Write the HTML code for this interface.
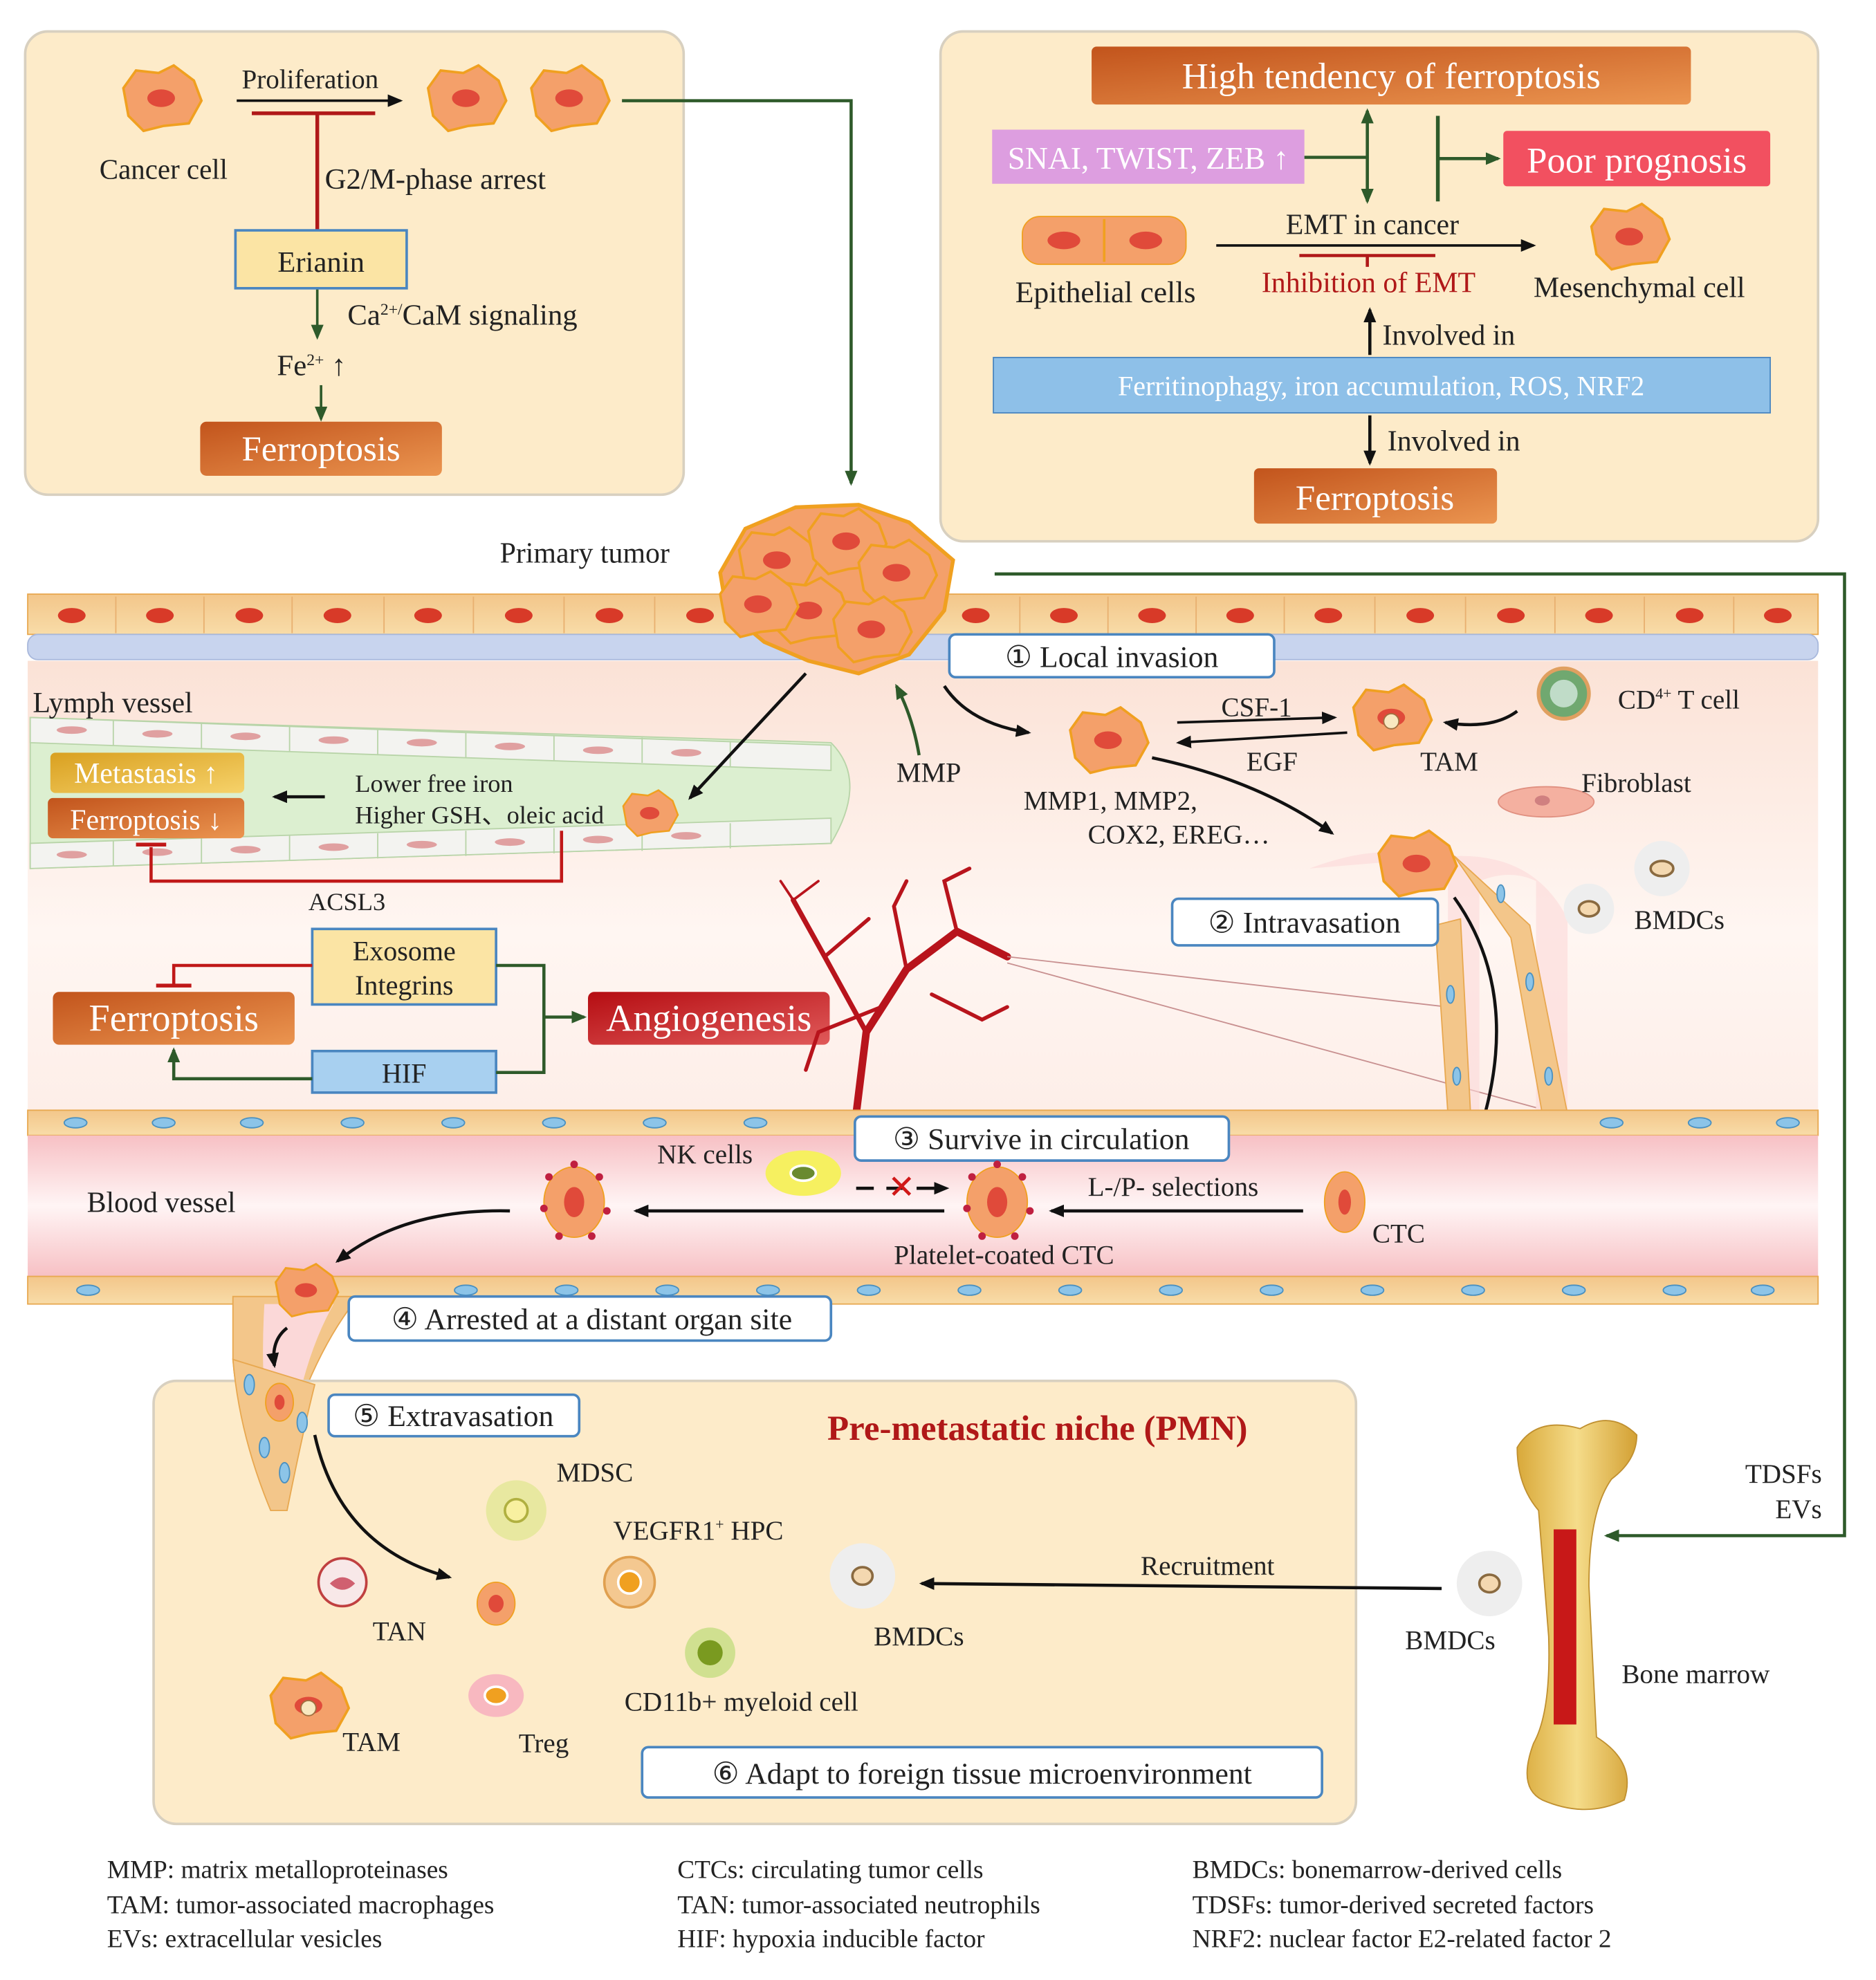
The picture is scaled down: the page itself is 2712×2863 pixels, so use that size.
<!DOCTYPE html>
<html><head><meta charset="utf-8"><style>
html,body{margin:0;padding:0;background:#fff}
svg{display:block}
text{font-family:"Liberation Serif",serif;fill:#222}
</style></head><body>
<svg width="2712" height="2863" viewBox="0 0 1490 1573" preserveAspectRatio="none" xmlns="http://www.w3.org/2000/svg">
<defs>
<linearGradient id="fer" x1="0" y1="0" x2="1" y2="1"><stop offset="0" stop-color="#c2541c"/><stop offset="1" stop-color="#eb9550"/></linearGradient>
<linearGradient id="met" x1="0" y1="0" x2="1" y2="1"><stop offset="0" stop-color="#d9a020"/><stop offset="1" stop-color="#f6d26a"/></linearGradient>
<linearGradient id="ang" x1="0" y1="0" x2="1" y2="1"><stop offset="0" stop-color="#b50d12"/><stop offset="1" stop-color="#e05a5a"/></linearGradient>
<linearGradient id="tis" x1="0" y1="0" x2="0" y2="1"><stop offset="0" stop-color="#fbe2d6"/><stop offset="0.6" stop-color="#fff6f2"/><stop offset="1" stop-color="#fdeee8"/></linearGradient>
<linearGradient id="bv" x1="0" y1="0" x2="0" y2="1"><stop offset="0" stop-color="#f7c0c4"/><stop offset="0.5" stop-color="#fff5f5"/><stop offset="1" stop-color="#f7c0c4"/></linearGradient>
<linearGradient id="wall" x1="0" y1="0" x2="0" y2="1"><stop offset="0" stop-color="#f3c68a"/><stop offset="1" stop-color="#f8dca8"/></linearGradient>
<linearGradient id="bone" x1="0" y1="0" x2="1" y2="0"><stop offset="0" stop-color="#d9a93a"/><stop offset="0.5" stop-color="#f5dc8a"/><stop offset="1" stop-color="#d3a033"/></linearGradient>
<marker id="ab" markerUnits="userSpaceOnUse" markerWidth="12" markerHeight="10" refX="10" refY="5" orient="auto"><path d="M0,0 L12,5 L0,10 Z" fill="#111"/></marker>
<marker id="ag" markerUnits="userSpaceOnUse" markerWidth="12" markerHeight="10" refX="10" refY="5" orient="auto"><path d="M0,0 L12,5 L0,10 Z" fill="#2e5a2a"/></marker>
<g id="cc"><path d="M-30,-8 L-20,-22 L-2,-20 L10,-26 L26,-14 L32,2 L22,20 L2,22 L-14,26 L-26,14 Z" fill="#f4a06a" stroke="#f0a020" stroke-width="2"/><ellipse cx="0" cy="0" rx="11" ry="7" fill="#e04a3a"/></g>
</defs>

<!-- top-left box -->
<rect x="20" y="25" width="523" height="368" rx="18" fill="#fdebc9" stroke="#d8d0c0" stroke-width="2"/>
<use href="#cc" x="128" y="78"/><use href="#cc" x="370" y="78"/><use href="#cc" x="452" y="78"/>
<text x="79" y="142" font-size="22.5">Cancer cell</text>
<text x="192" y="70" font-size="21.5">Proliferation</text>
<line x1="188" y1="80" x2="318" y2="80" stroke="#111" stroke-width="2" marker-end="url(#ab)"/>
<line x1="200" y1="90" x2="298" y2="90" stroke="#b01818" stroke-width="3"/>
<line x1="252" y1="90" x2="252" y2="183" stroke="#b01818" stroke-width="3"/>
<text x="258" y="150" font-size="23.5">G2/M-phase arrest</text>
<rect x="187" y="183" width="136" height="46" fill="#fbe4a4" stroke="#4a86c0" stroke-width="2"/>
<text x="255" y="216" font-size="23.5" text-anchor="middle">Erianin</text>
<line x1="252" y1="230" x2="252" y2="268" stroke="#2e5a2a" stroke-width="2" marker-end="url(#ag)"/>
<text x="276" y="258" font-size="23.5">Ca<tspan font-size="13" dy="-8">2+/</tspan><tspan dy="8">CaM signaling</tspan></text>
<text x="220" y="298" font-size="23.5">Fe<tspan font-size="13" dy="-8">2+</tspan><tspan dy="8"> ↑</tspan></text>
<line x1="255" y1="306" x2="255" y2="333" stroke="#2e5a2a" stroke-width="2" marker-end="url(#ag)"/>
<rect x="159" y="335" width="192" height="43" rx="5" fill="url(#fer)"/>
<text x="255" y="366" font-size="28" text-anchor="middle" style="fill:#fff">Ferroptosis</text>
<polyline points="494,80 676,80 676,384" fill="none" stroke="#2e5a2a" stroke-width="2.5" marker-end="url(#ag)"/>

<!-- top-right box -->
<rect x="747" y="25" width="697" height="405" rx="18" fill="#fdebc9" stroke="#d8d0c0" stroke-width="2"/>
<rect x="867" y="37" width="476" height="46" rx="4" fill="url(#fer)"/>
<text x="1105" y="70" font-size="29" text-anchor="middle" style="fill:#fff">High tendency of ferroptosis</text>
<rect x="788" y="103" width="248" height="43" fill="#dd9ee0"/>
<text x="912" y="134" font-size="25" text-anchor="middle" style="fill:#fff">SNAI, TWIST, ZEB ↑</text>
<polyline points="1036,125 1086,125" stroke="#2e5a2a" stroke-width="2.5"/>
<line x1="1086" y1="100" x2="1086" y2="160" stroke="#2e5a2a" stroke-width="2.5" marker-end="url(#ag)"/>
<line x1="1086" y1="100" x2="1086" y2="88" stroke="#2e5a2a" stroke-width="2.5" marker-end="url(#ag)"/>
<line x1="1142" y1="92" x2="1142" y2="160" stroke="#2e5a2a" stroke-width="3"/>
<line x1="1142" y1="126" x2="1190" y2="126" stroke="#2e5a2a" stroke-width="2.5" marker-end="url(#ag)"/>
<rect x="1194" y="104" width="212" height="44" rx="3" fill="#f25060"/>
<text x="1300" y="137" font-size="29" text-anchor="middle" style="fill:#fff">Poor prognosis</text>
<rect x="812" y="172" width="130" height="38" rx="14" fill="#f4a06a" stroke="#f0a020"/>
<ellipse cx="845" cy="191" rx="13" ry="7" fill="#e04a3a"/><ellipse cx="910" cy="191" rx="13" ry="7" fill="#e04a3a"/>
<line x1="877" y1="174" x2="877" y2="208" stroke="#f0a020" stroke-width="2"/>
<text x="878" y="240" font-size="24" text-anchor="middle">Epithelial cells</text>
<text x="1090" y="186" font-size="23" text-anchor="middle">EMT in cancer</text>
<line x1="966" y1="195" x2="1218" y2="195" stroke="#111" stroke-width="2" marker-end="url(#ab)"/>
<line x1="1032" y1="203" x2="1140" y2="203" stroke="#b01818" stroke-width="2.5"/>
<line x1="1086" y1="203" x2="1086" y2="212" stroke="#b01818" stroke-width="2.5"/>
<text x="1087" y="232" font-size="23" text-anchor="middle" style="fill:#b01818">Inhibition of EMT</text>
<use href="#cc" x="1294" y="188"/>
<text x="1302" y="236" font-size="23" text-anchor="middle">Mesenchymal cell</text>
<line x1="1088" y1="282" x2="1088" y2="246" stroke="#111" stroke-width="2.5" marker-end="url(#ab)"/>
<text x="1098" y="274" font-size="23">Involved in</text>
<rect x="789" y="284" width="617" height="44" fill="#8ec0e8" stroke="#4a86c0"/>
<text x="1097" y="314" font-size="22" text-anchor="middle" style="fill:#fff">Ferritinophagy, iron accumulation, ROS, NRF2</text>
<line x1="1088" y1="330" x2="1088" y2="368" stroke="#111" stroke-width="2.5" marker-end="url(#ab)"/>
<text x="1102" y="358" font-size="23">Involved in</text>
<rect x="996" y="372" width="193" height="44" rx="4" fill="url(#fer)"/>
<text x="1092" y="405" font-size="28" text-anchor="middle" style="fill:#fff">Ferroptosis</text>

<polyline points="790,456 1465,456 1465,1220 1276,1220" fill="none" stroke="#2e5a2a" stroke-width="2.5" marker-end="url(#ag)"/>

<!-- tissue -->
<rect x="22" y="525" width="1422" height="360" fill="url(#tis)"/>
<rect x="22" y="472" width="1422" height="32" fill="url(#wall)" stroke="#e8a850"/>
<g fill="#d83a28">
<ellipse cx="57" cy="489" rx="11" ry="6"/><ellipse cx="127" cy="489" rx="11" ry="6"/><ellipse cx="198" cy="489" rx="11" ry="6"/><ellipse cx="268" cy="489" rx="11" ry="6"/><ellipse cx="340" cy="489" rx="11" ry="6"/><ellipse cx="412" cy="489" rx="11" ry="6"/><ellipse cx="484" cy="489" rx="11" ry="6"/><ellipse cx="556" cy="489" rx="11" ry="6"/><ellipse cx="775" cy="489" rx="11" ry="6"/><ellipse cx="845" cy="489" rx="11" ry="6"/><ellipse cx="915" cy="489" rx="11" ry="6"/><ellipse cx="985" cy="489" rx="11" ry="6"/><ellipse cx="1055" cy="489" rx="11" ry="6"/><ellipse cx="1128" cy="489" rx="11" ry="6"/><ellipse cx="1200" cy="489" rx="11" ry="6"/><ellipse cx="1270" cy="489" rx="11" ry="6"/><ellipse cx="1342" cy="489" rx="11" ry="6"/><ellipse cx="1412" cy="489" rx="11" ry="6"/></g>
<g stroke="#e8b070" stroke-width="1"><line x1="92" y1="474" x2="92" y2="503"/><line x1="162" y1="474" x2="162" y2="503"/><line x1="232" y1="474" x2="232" y2="503"/><line x1="305" y1="474" x2="305" y2="503"/><line x1="376" y1="474" x2="376" y2="503"/><line x1="448" y1="474" x2="448" y2="503"/><line x1="520" y1="474" x2="520" y2="503"/><line x1="810" y1="474" x2="810" y2="503"/><line x1="880" y1="474" x2="880" y2="503"/><line x1="950" y1="474" x2="950" y2="503"/><line x1="1020" y1="474" x2="1020" y2="503"/><line x1="1092" y1="474" x2="1092" y2="503"/><line x1="1164" y1="474" x2="1164" y2="503"/><line x1="1235" y1="474" x2="1235" y2="503"/><line x1="1306" y1="474" x2="1306" y2="503"/><line x1="1377" y1="474" x2="1377" y2="503"/></g>
<rect x="22" y="504" width="1422" height="20" rx="8" fill="#c8d4ee" stroke="#a8b8dc"/>
<!-- primary tumor -->
<g transform="translate(662,465)">
<path d="M-90,-10 L-70,-45 L-30,-62 L20,-64 L60,-50 L95,-20 L88,20 L60,55 L20,70 L-20,60 L-55,45 L-85,20 Z" fill="#f4a06a" stroke="#f0a020" stroke-width="3"/>
<use href="#cc" x="-45" y="-20"/><use href="#cc" x="10" y="-35"/><use href="#cc" x="50" y="-10"/><use href="#cc" x="-20" y="20"/><use href="#cc" x="30" y="35"/><use href="#cc" x="-60" y="15"/>
</g>
<text x="397" y="447" font-size="23">Primary tumor</text>

<!-- lymph vessel -->
<path d="M24,570 L660,590 Q690,620 660,670 L24,690 Z" fill="#dcefd0" stroke="#b8d4a8"/>
<g fill="#f3f3f0" stroke="#b8d4a8">
<path d="M24,570 L660,592 L660,612 L24,590 Z"/><path d="M24,670 L660,650 L660,670 L24,690 Z"/></g>
<g stroke="#b8d4a8"><line x1="90" y1="572" x2="90" y2="592"/><line x1="160" y1="575" x2="160" y2="595"/><line x1="230" y1="577" x2="230" y2="597"/><line x1="300" y1="580" x2="300" y2="600"/><line x1="370" y1="582" x2="370" y2="602"/><line x1="440" y1="584" x2="440" y2="604"/><line x1="510" y1="586" x2="510" y2="606"/><line x1="580" y1="589" x2="580" y2="609"/><line x1="90" y1="668" x2="90" y2="688"/><line x1="160" y1="666" x2="160" y2="686"/><line x1="230" y1="664" x2="230" y2="684"/><line x1="300" y1="662" x2="300" y2="682"/><line x1="370" y1="660" x2="370" y2="680"/><line x1="440" y1="658" x2="440" y2="678"/><line x1="510" y1="656" x2="510" y2="676"/><line x1="580" y1="654" x2="580" y2="674"/></g>
<g fill="#e0a0a0"><ellipse cx="57" cy="580" rx="12" ry="3"/><ellipse cx="125" cy="583" rx="12" ry="3"/><ellipse cx="195" cy="585" rx="12" ry="3"/><ellipse cx="265" cy="588" rx="12" ry="3"/><ellipse cx="335" cy="590" rx="12" ry="3"/><ellipse cx="405" cy="593" rx="12" ry="3"/><ellipse cx="475" cy="596" rx="12" ry="3"/><ellipse cx="545" cy="598" rx="12" ry="3"/><ellipse cx="57" cy="679" rx="12" ry="3"/><ellipse cx="125" cy="677" rx="12" ry="3"/><ellipse cx="195" cy="675" rx="12" ry="3"/><ellipse cx="265" cy="673" rx="12" ry="3"/><ellipse cx="335" cy="671" rx="12" ry="3"/><ellipse cx="405" cy="669" rx="12" ry="3"/><ellipse cx="475" cy="667" rx="12" ry="3"/><ellipse cx="545" cy="664" rx="12" ry="3"/></g>
<text x="26" y="566" font-size="23">Lymph vessel</text>
<rect x="40" y="598" width="154" height="32" rx="4" fill="url(#met)"/>
<text x="116" y="622" font-size="23" text-anchor="middle" style="fill:#fff">Metastasis ↑</text>
<rect x="38" y="634" width="156" height="32" rx="4" fill="url(#fer)"/>
<text x="116" y="659" font-size="23" text-anchor="middle" style="fill:#fff">Ferroptosis ↓</text>
<line x1="258" y1="633" x2="218" y2="633" stroke="#111" stroke-width="2.5" marker-end="url(#ab)"/>
<text x="282" y="629" font-size="20">Lower free iron</text>
<text x="282" y="654" font-size="20">Higher GSH、oleic acid</text>
<g transform="translate(516,646) scale(0.7)"><use href="#cc"/></g>
<polyline points="446,660 446,700 120,700 120,673" fill="none" stroke="#c01818" stroke-width="2.5"/>
<line x1="108" y1="671" x2="132" y2="671" stroke="#c01818" stroke-width="3"/>
<text x="245" y="723" font-size="20">ACSL3</text>
<line x1="640" y1="535" x2="548" y2="634" stroke="#111" stroke-width="2.5" marker-end="url(#ab)"/>
<path d="M730,600 Q725,570 712,545" fill="none" stroke="#2e5a2a" stroke-width="2.5" marker-end="url(#ag)"/>
<text x="712" y="621" font-size="22">MMP</text>

<!-- angiogenesis block -->
<rect x="248" y="738" width="146" height="60" fill="#fbe4a4" stroke="#4a86c0" stroke-width="2"/>
<text x="321" y="763" font-size="22" text-anchor="middle">Exosome</text>
<text x="321" y="790" font-size="22" text-anchor="middle">Integrins</text>
<rect x="248" y="835" width="146" height="33" fill="#a8d0f0" stroke="#4a86c0" stroke-width="2"/>
<text x="321" y="860" font-size="22" text-anchor="middle">HIF</text>
<rect x="42" y="788" width="192" height="42" rx="5" fill="url(#fer)"/>
<text x="138" y="819" font-size="30" text-anchor="middle" style="fill:#fff">Ferroptosis</text>
<polyline points="248,767 138,767 138,782" fill="none" stroke="#c01818" stroke-width="2.5"/>
<line x1="124" y1="783" x2="152" y2="783" stroke="#c01818" stroke-width="3"/>
<polyline points="248,857 138,857 138,834" fill="none" stroke="#2e5a2a" stroke-width="2.5" marker-end="url(#ag)"/>
<polyline points="394,767 432,767 432,852 394,852" fill="none" stroke="#2e5a2a" stroke-width="2.5"/>
<line x1="432" y1="808" x2="464" y2="808" stroke="#2e5a2a" stroke-width="2.5" marker-end="url(#ag)"/>
<rect x="467" y="788" width="192" height="42" rx="5" fill="url(#ang)"/>
<text x="563" y="819" font-size="30" text-anchor="middle" style="fill:#fff">Angiogenesis</text>
<g stroke="#b8141c" fill="none" stroke-linecap="round">
<path d="M680,885 L688,820 L720,770 L760,740 L800,760" stroke-width="6"/>
<path d="M688,820 L655,760 L630,715" stroke-width="4"/>
<path d="M720,770 L710,720 L720,700" stroke-width="3"/><path d="M655,760 L690,730" stroke-width="3"/>
<path d="M700,800 L650,820 L640,850" stroke-width="3"/><path d="M760,740 L750,700 L770,690" stroke-width="3"/>
<path d="M740,790 L780,810 L800,800" stroke-width="3"/><path d="M630,715 L620,700 M630,715 L650,700" stroke-width="2"/>
</g>
<line x1="800" y1="760" x2="1150" y2="800" stroke="#c89090" stroke-width="1"/>
<line x1="800" y1="765" x2="1220" y2="880" stroke="#c89090" stroke-width="1"/>

<!-- local invasion right side -->
<rect x="754" y="504" width="258" height="34" rx="5" fill="#fff" stroke="#4a86c0" stroke-width="2"/>
<text x="883" y="530" font-size="24" text-anchor="middle">① Local invasion</text>
<path d="M750,545 Q770,575 817,582" fill="none" stroke="#111" stroke-width="2.5" marker-end="url(#ab)"/>
<use href="#cc" x="880" y="588"/>
<text x="970" y="569" font-size="21.5">CSF-1</text>
<line x1="935" y1="574" x2="1060" y2="570" stroke="#111" stroke-width="2" marker-end="url(#ab)"/>
<line x1="1070" y1="582" x2="936" y2="590" stroke="#111" stroke-width="2" marker-end="url(#ab)"/>
<text x="990" y="612" font-size="21.5">EGF</text>
<use href="#cc" x="1105" y="570"/>
<circle cx="1105" cy="573" r="6" fill="#f8e8c0" stroke="#a07040"/>
<text x="1128" y="612" font-size="21.5">TAM</text>
<circle cx="1242" cy="551" r="20" fill="#70a870" stroke="#e0a060" stroke-width="3"/><circle cx="1242" cy="551" r="11" fill="#c0dcc8"/>
<path d="M1205,565 Q1185,580 1148,574" fill="none" stroke="#111" stroke-width="2.5" marker-end="url(#ab)"/>
<text x="1285" y="563" font-size="21.5">CD<tspan font-size="12" dy="-8">4+</tspan><tspan dy="8"> T cell</tspan></text>
<ellipse cx="1228" cy="637" rx="38" ry="12" fill="#f4b0a0" stroke="#e09080"/><ellipse cx="1225" cy="636" rx="6" ry="4" fill="#d08080"/>
<text x="1256" y="629" font-size="21.5">Fibroblast</text>
<text x="813" y="643" font-size="21.5">MMP1, MMP2,</text>
<text x="864" y="670" font-size="21.5">COX2, EREG…</text>
<path d="M915,602 Q1000,620 1058,662" fill="none" stroke="#111" stroke-width="2.5" marker-end="url(#ab)"/>
<!-- intravasation vessel -->
<path d="M1040,690 Q1120,660 1150,700 L1150,885 L1175,885 L1175,700 Q1200,690 1220,700 L1220,885 L1245,885 L1245,730 Q1220,680 1160,680 Z" fill="#fbd8d8" opacity="0.6"/>
<path d="M1140,735 L1150,885 L1168,885 L1160,730 Z" fill="#f3c68a" stroke="#e8a850"/>
<path d="M1155,680 L1215,735 L1245,885 L1225,885 L1200,745 Z" fill="#f3c68a" stroke="#e8a850"/>
<g fill="#8cc4e8" stroke="#4a90c0"><ellipse cx="1152" cy="790" rx="3" ry="7"/><ellipse cx="1157" cy="855" rx="3" ry="7"/><ellipse cx="1192" cy="710" rx="3" ry="7"/><ellipse cx="1215" cy="780" rx="3" ry="7"/><ellipse cx="1230" cy="855" rx="3" ry="7"/></g>
<use href="#cc" x="1125" y="686"/>
<rect x="931" y="714" width="211" height="37" rx="5" fill="#fff" stroke="#4a86c0" stroke-width="2"/>
<text x="1036" y="741" font-size="24" text-anchor="middle">② Intravasation</text>
<path d="M1155,713 Q1210,790 1175,900 Q1160,940 1108,953" fill="none" stroke="#111" stroke-width="2.5" marker-end="url(#ab)"/>
<circle cx="1320" cy="690" r="22" fill="#eee"/><ellipse cx="1320" cy="690" rx="9" ry="6" fill="#f4d8b0" stroke="#8a6a40" stroke-width="2"/>
<circle cx="1262" cy="722" r="20" fill="#eee"/><ellipse cx="1262" cy="722" rx="8" ry="6" fill="#f4d8b0" stroke="#8a6a40" stroke-width="2"/>
<text x="1298" y="738" font-size="21.5">BMDCs</text>

<!-- blood vessel -->
<rect x="22" y="882" width="1422" height="20" fill="url(#wall)" stroke="#e8a850"/>
<rect x="22" y="902" width="1422" height="112" fill="url(#bv)"/>
<rect x="22" y="1014" width="1422" height="22" fill="url(#wall)" stroke="#e8a850"/>
<g fill="#8cc4e8" stroke="#4a90c0">
<ellipse cx="60" cy="892" rx="9" ry="4"/><ellipse cx="130" cy="892" rx="9" ry="4"/><ellipse cx="200" cy="892" rx="9" ry="4"/><ellipse cx="280" cy="892" rx="9" ry="4"/><ellipse cx="360" cy="892" rx="9" ry="4"/><ellipse cx="440" cy="892" rx="9" ry="4"/><ellipse cx="520" cy="892" rx="9" ry="4"/><ellipse cx="600" cy="892" rx="9" ry="4"/><ellipse cx="1280" cy="892" rx="9" ry="4"/><ellipse cx="1350" cy="892" rx="9" ry="4"/><ellipse cx="1420" cy="892" rx="9" ry="4"/>
<ellipse cx="70" cy="1025" rx="9" ry="4"/><ellipse cx="370" cy="1025" rx="9" ry="4"/><ellipse cx="450" cy="1025" rx="9" ry="4"/><ellipse cx="530" cy="1025" rx="9" ry="4"/><ellipse cx="610" cy="1025" rx="9" ry="4"/><ellipse cx="690" cy="1025" rx="9" ry="4"/><ellipse cx="770" cy="1025" rx="9" ry="4"/><ellipse cx="850" cy="1025" rx="9" ry="4"/><ellipse cx="930" cy="1025" rx="9" ry="4"/><ellipse cx="1010" cy="1025" rx="9" ry="4"/><ellipse cx="1090" cy="1025" rx="9" ry="4"/><ellipse cx="1170" cy="1025" rx="9" ry="4"/><ellipse cx="1250" cy="1025" rx="9" ry="4"/><ellipse cx="1330" cy="1025" rx="9" ry="4"/><ellipse cx="1400" cy="1025" rx="9" ry="4"/></g>
<rect x="679" y="887" width="297" height="35" rx="5" fill="#fff" stroke="#4a86c0" stroke-width="2"/>
<text x="827" y="913" font-size="24" text-anchor="middle">③ Survive in circulation</text>
<text x="69" y="963" font-size="23">Blood vessel</text>
<text x="522" y="924" font-size="21.5">NK cells</text>
<ellipse cx="638" cy="932" rx="30" ry="18" fill="#f6f060"/><ellipse cx="638" cy="932" rx="10" ry="6" fill="#6a8a30" stroke="#fff" stroke-width="2"/>
<line x1="680" y1="944" x2="752" y2="944" stroke="#111" stroke-width="2.5" stroke-dasharray="14,10" marker-end="url(#ab)"/>
<text x="716" y="952" font-size="26" text-anchor="middle" style="fill:#d01818">✕</text>
<g><ellipse cx="792" cy="955" rx="24" ry="28" fill="#f4a06a" stroke="#f0a020"/><ellipse cx="792" cy="955" rx="8" ry="12" fill="#e04a3a"/>
<g fill="#c02040"><circle cx="772" cy="935" r="3"/><circle cx="812" cy="935" r="3"/><circle cx="768" cy="960" r="3"/><circle cx="818" cy="962" r="3"/><circle cx="792" cy="925" r="3"/><circle cx="780" cy="982" r="3"/><circle cx="806" cy="982" r="3"/></g></g>
<ellipse cx="456" cy="955" rx="24" ry="28" fill="#f4a06a" stroke="#f0a020"/><ellipse cx="456" cy="955" rx="8" ry="12" fill="#e04a3a"/>
<g fill="#c02040"><circle cx="436" cy="935" r="3"/><circle cx="476" cy="935" r="3"/><circle cx="432" cy="960" r="3"/><circle cx="482" cy="962" r="3"/><circle cx="456" cy="925" r="3"/><circle cx="444" cy="982" r="3"/><circle cx="470" cy="982" r="3"/></g>
<line x1="750" y1="962" x2="505" y2="962" stroke="#111" stroke-width="2.5" marker-end="url(#ab)"/>
<line x1="1035" y1="962" x2="835" y2="962" stroke="#111" stroke-width="2.5" marker-end="url(#ab)"/>
<text x="864" y="950" font-size="21.5">L-/P- selections</text>
<text x="710" y="1004" font-size="21.5">Platelet-coated CTC</text>
<ellipse cx="1068" cy="955" rx="16" ry="24" fill="#f4a06a" stroke="#f0a020"/><ellipse cx="1068" cy="955" rx="5" ry="10" fill="#e04a3a"/>
<text x="1090" y="987" font-size="21.5">CTC</text>
<path d="M405,962 Q320,960 268,1002" fill="none" stroke="#111" stroke-width="2.5" marker-end="url(#ab)"/>
<!-- extravasation vessel -->
<path d="M185,1030 L285,1030 Q260,1060 240,1110 L228,1200 L215,1200 Q190,1140 185,1080 Z" fill="#f3c68a" stroke="#e8a850"/>
<path d="M210,1036 L265,1036 Q240,1080 230,1150 L222,1180 Q205,1120 210,1036 Z" fill="#fbd8d8"/>
<g transform="translate(243,1025) scale(0.8)"><use href="#cc"/></g>
<path d="M228,1055 Q215,1065 218,1085" fill="none" stroke="#111" stroke-width="2.5" marker-end="url(#ab)"/>
<rect x="277" y="1030" width="383" height="35" rx="5" fill="#fff" stroke="#4a86c0" stroke-width="2"/>
<text x="470" y="1056" font-size="24" text-anchor="middle">④ Arrested at a distant organ site</text>

<!-- PMN box -->
<rect x="122" y="1097" width="955" height="352" rx="18" fill="#fdebc9" stroke="#d8d0c0" stroke-width="2"/>
<path d="M185,1080 Q190,1140 215,1200 L228,1200 Q240,1140 250,1100 Z" fill="#f3c68a" stroke="#e8a850"/>
<ellipse cx="222" cy="1114" rx="11" ry="15" fill="#f4a06a" stroke="#f0a020"/><ellipse cx="222" cy="1114" rx="4" ry="6" fill="#e04a3a"/>
<g fill="#8cc4e8" stroke="#4a90c0"><ellipse cx="198" cy="1100" rx="4" ry="8"/><ellipse cx="210" cy="1150" rx="4" ry="8"/><ellipse cx="226" cy="1170" rx="4" ry="8"/><ellipse cx="240" cy="1130" rx="4" ry="8"/></g>
<rect x="261" y="1108" width="199" height="33" rx="5" fill="#fff" stroke="#4a86c0" stroke-width="2"/>
<text x="360" y="1133" font-size="24" text-anchor="middle">⑤ Extravasation</text>
<text x="824" y="1144" font-size="28" font-weight="bold" text-anchor="middle" style="fill:#b01818">Pre-metastatic niche (PMN)</text>
<path d="M250,1140 Q270,1230 357,1253" fill="none" stroke="#111" stroke-width="2.5" marker-end="url(#ab)"/>
<circle cx="410" cy="1200" r="24" fill="#e8e8a0"/><circle cx="410" cy="1200" r="9" fill="#f8f0a0" stroke="#b0b040" stroke-width="2"/>
<text x="442" y="1177" font-size="21.5">MDSC</text>
<text x="487" y="1223" font-size="21.5">VEGFR1<tspan font-size="12" dy="-8">+</tspan><tspan dy="8"> HPC</tspan></text>
<circle cx="500" cy="1257" r="20" fill="#f4c890" stroke="#e0a050" stroke-width="2"/><circle cx="500" cy="1257" r="9" fill="#f0a020" stroke="#fff" stroke-width="2"/>
<circle cx="272" cy="1257" r="19" fill="#f8e8e8" stroke="#c04040" stroke-width="2"/><path d="M262,1258 q10,-10 20,0 q-10,10 -20,0" fill="#d06070"/>
<text x="296" y="1303" font-size="21.5">TAN</text>
<ellipse cx="394" cy="1274" rx="15" ry="17" fill="#f4a06a" stroke="#f0a020"/><ellipse cx="394" cy="1274" rx="6" ry="7" fill="#e04a3a"/>
<circle cx="564" cy="1313" r="20" fill="#d0e090"/><circle cx="564" cy="1313" r="10" fill="#7a9a20"/>
<text x="496" y="1359" font-size="21.5">CD11b+ myeloid cell</text>
<circle cx="685" cy="1252" r="26" fill="#eee"/><ellipse cx="685" cy="1252" rx="8" ry="7" fill="#f4d8b0" stroke="#8a6a40" stroke-width="2"/>
<text x="694" y="1307" font-size="21.5">BMDCs</text>
<use href="#cc" x="245" y="1355"/><circle cx="245" cy="1357" r="6" fill="#f8e8c0" stroke="#a07040"/>
<text x="272" y="1391" font-size="21.5">TAM</text>
<ellipse cx="394" cy="1347" rx="22" ry="17" fill="#f8b8c0"/><ellipse cx="394" cy="1347" rx="9" ry="7" fill="#f0a020" stroke="#fff" stroke-width="2"/>
<text x="412" y="1392" font-size="21.5">Treg</text>
<rect x="510" y="1388" width="540" height="40" rx="5" fill="#fff" stroke="#4a86c0" stroke-width="2"/>
<text x="780" y="1417" font-size="24" text-anchor="middle">⑥ Adapt to foreign tissue microenvironment</text>
<line x1="1145" y1="1262" x2="732" y2="1258" stroke="#111" stroke-width="2.5" marker-end="url(#ab)"/>
<text x="906" y="1251" font-size="21.5">Recruitment</text>
<circle cx="1183" cy="1258" r="26" fill="#eee"/><ellipse cx="1183" cy="1258" rx="8" ry="7" fill="#f4d8b0" stroke="#8a6a40" stroke-width="2"/>
<text x="1116" y="1310" font-size="21.5">BMDCs</text>
<!-- bone -->
<path d="M1205,1150 Q1220,1125 1255,1135 Q1280,1120 1300,1140 Q1300,1160 1280,1175 Q1262,1200 1262,1260 L1268,1380 Q1300,1400 1290,1430 Q1260,1445 1225,1430 Q1205,1420 1218,1385 Q1232,1360 1230,1300 L1222,1200 Q1205,1180 1205,1150 Z" fill="url(#bone)" stroke="#c09030"/>
<rect x="1234" y="1215" width="18" height="155" fill="#c81818"/>
<text x="1288" y="1337" font-size="21.5">Bone marrow</text>
<text x="1447" y="1178" font-size="21.5" text-anchor="end">TDSFs</text>
<text x="1447" y="1206" font-size="21.5" text-anchor="end">EVs</text>

<!-- legend -->
<g font-size="20.5">
<text x="85" y="1492">MMP: matrix metalloproteinases</text>
<text x="85" y="1520">TAM: tumor-associated macrophages</text>
<text x="85" y="1547">EVs: extracellular vesicles</text>
<text x="538" y="1492">CTCs: circulating tumor cells</text>
<text x="538" y="1520">TAN: tumor-associated neutrophils</text>
<text x="538" y="1547">HIF: hypoxia inducible factor</text>
<text x="947" y="1492">BMDCs: bonemarrow-derived cells</text>
<text x="947" y="1520">TDSFs: tumor-derived secreted factors</text>
<text x="947" y="1547">NRF2: nuclear factor E2-related factor 2</text>
</g>
</svg>
</body></html>
